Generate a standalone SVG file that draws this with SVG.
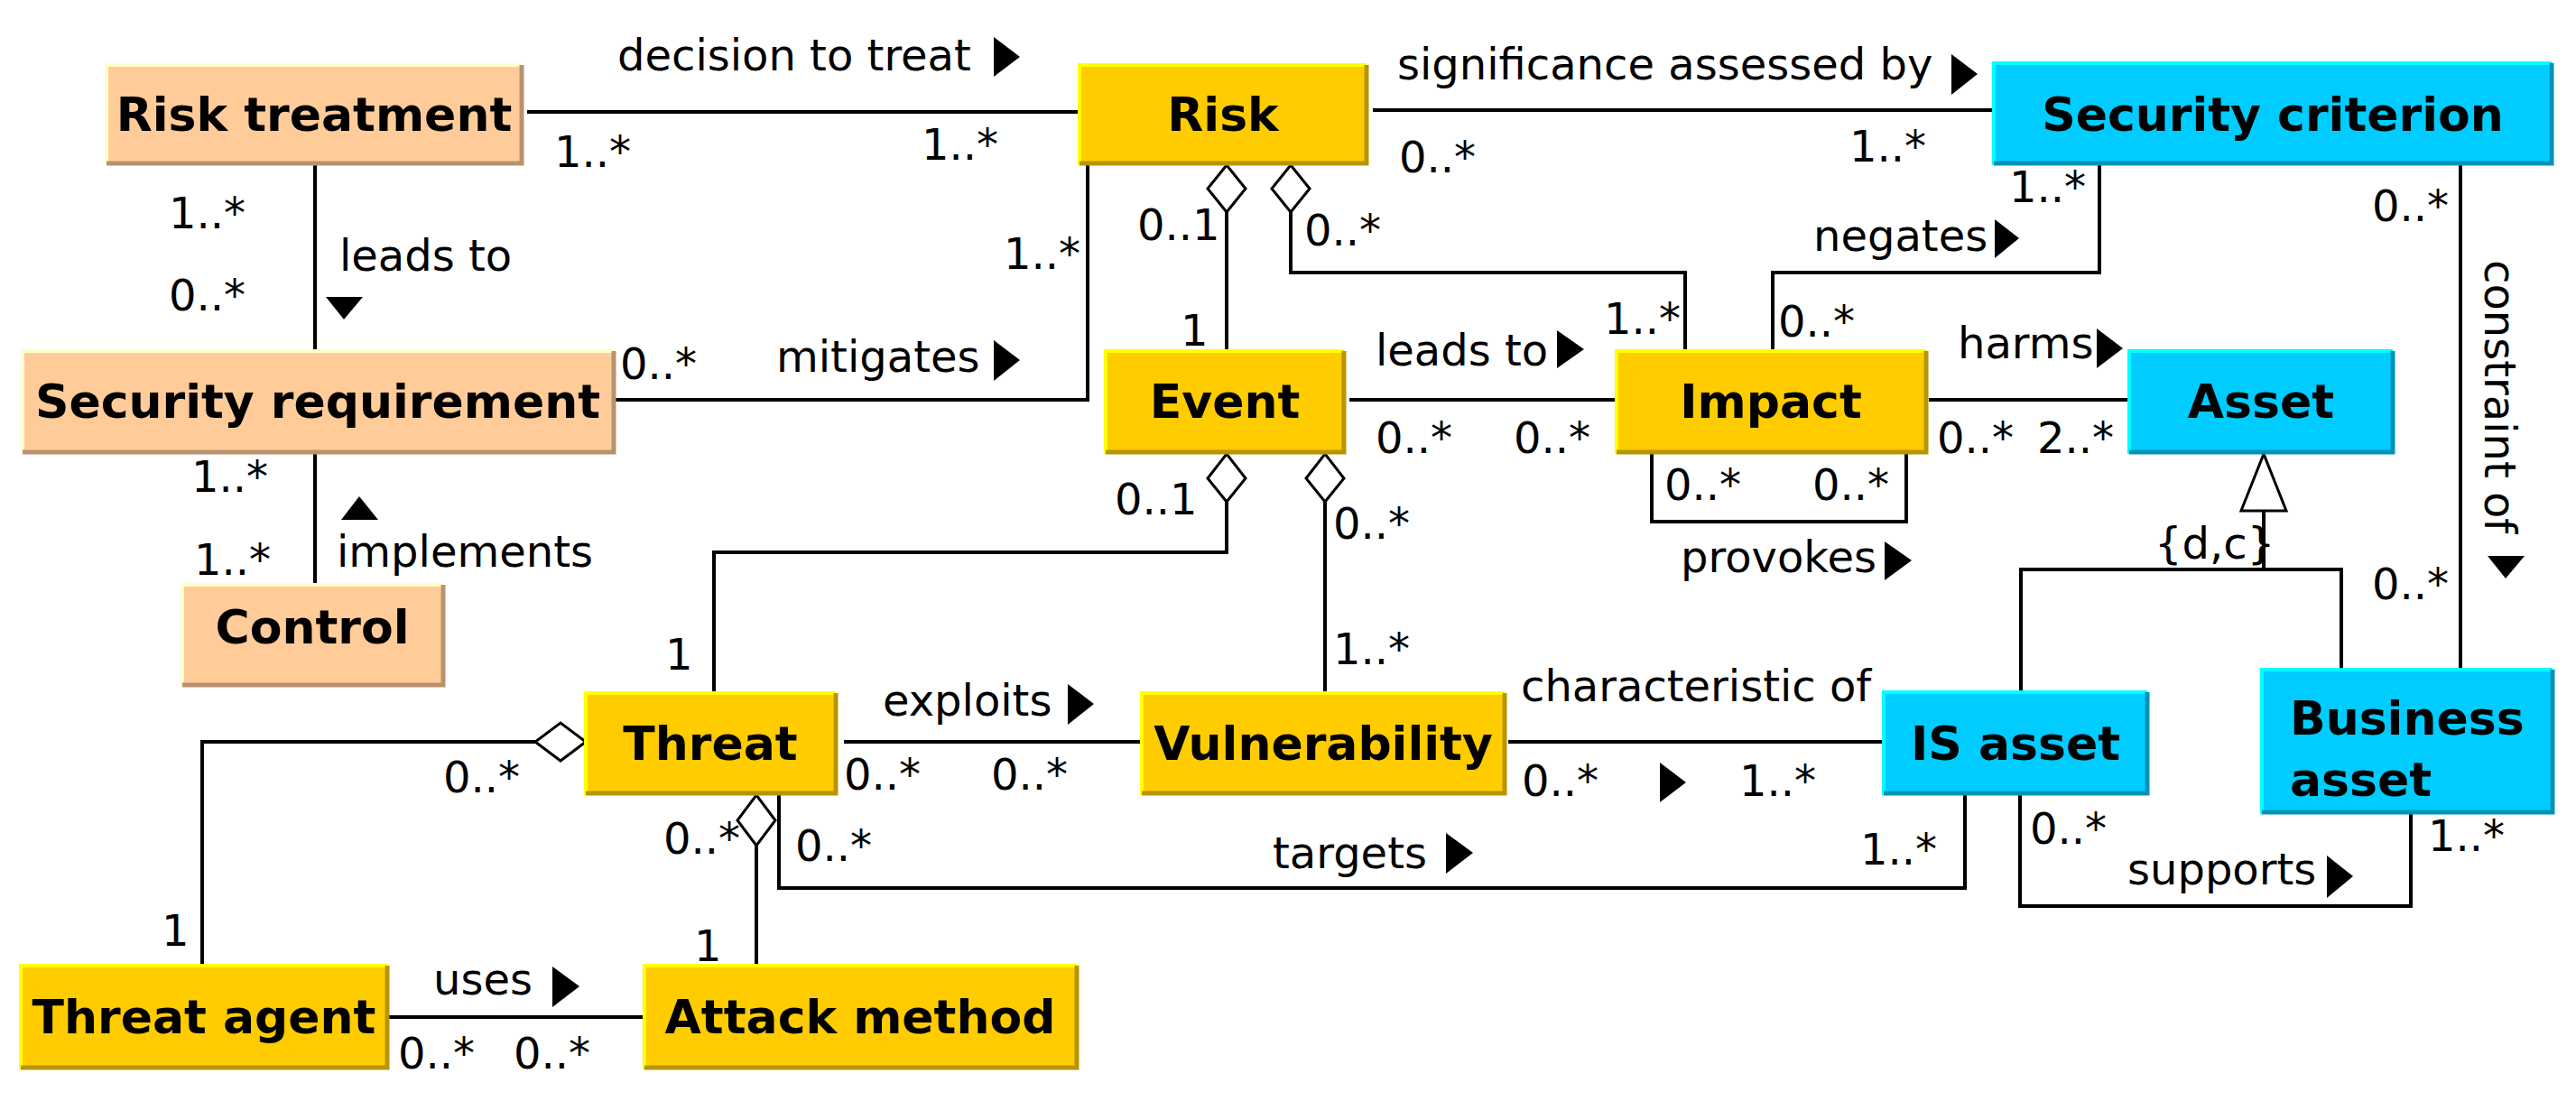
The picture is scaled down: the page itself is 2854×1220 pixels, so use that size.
<svg xmlns="http://www.w3.org/2000/svg" width="2854" height="1220" viewBox="0 0 2854 1220">
<defs>
<style>
text{font-family:"DejaVu Sans","Liberation Sans",sans-serif;fill:#000}
.t{font-size:48px}
.n{font-size:52px;font-weight:bold;text-anchor:middle}
.nl{font-size:52px;font-weight:bold}
.c line,.c polyline,.c path{stroke:#000;stroke-width:4;fill:none}
.c .dia{fill:#fff;stroke-width:3}
.tri{fill:#000;stroke:none}
.peach{fill:#FFCC99}.yel{fill:#FFCC00}.cyan{fill:#00CCFF}
</style>
</defs>
<rect width="2854" height="1220" fill="#fff"/>
<g id="connectors" class="c">
<line x1="584" y1="124" x2="1196" y2="124"/>
<line x1="349" y1="183" x2="349" y2="389"/>
<polyline points="680,443 1205,443 1205,183"/>
<line x1="349" y1="503" x2="349" y2="646"/>
<line x1="1359" y1="235" x2="1359" y2="390"/>
<path class="dia" d="M1359,183 L1380,209 L1359,235 L1338,209 Z"/>
<polyline points="1430,235 1430,302 1867,302 1867,389"/>
<path class="dia" d="M1430,183 L1451,209 L1430,235 L1409,209 Z"/>
<line x1="1521" y1="122" x2="2209" y2="122"/>
<polyline points="2326,183 2326,302 1964,302 1964,389"/>
<line x1="2726" y1="183" x2="2726" y2="742"/>
<line x1="1495" y1="443" x2="1791" y2="443"/>
<line x1="2137" y1="443" x2="2359" y2="443"/>
<polyline points="1830,503 1830,578 2112,578 2112,503"/>
<polyline points="2239,767 2239,631 2594,631 2594,742"/>
<line x1="2508" y1="566" x2="2508" y2="631"/>
<path class="dia" d="M2508,503 L2533,566 L2483,566 Z"/>
<polyline points="1359,556 1359,612 791,612 791,768"/>
<path class="dia" d="M1359,503 L1380,530 L1359,556 L1338,530 Z"/>
<line x1="1468" y1="556" x2="1468" y2="768"/>
<path class="dia" d="M1468,503 L1489,530 L1468,556 L1447,530 Z"/>
<line x1="935" y1="822" x2="1265" y2="822"/>
<line x1="1671" y1="822" x2="2087" y2="822"/>
<polyline points="593,822 224,822 224,1070"/>
<path class="dia" d="M649,822 L621,843 L593,822 L621,801 Z"/>
<line x1="838" y1="937" x2="838" y2="1070"/>
<path class="dia" d="M838,881 L859,909 L838,937 L817,909 Z"/>
<polyline points="863,881 863,984 2177,984 2177,881"/>
<polyline points="2238,881 2238,1004 2671,1004 2671,902"/>
<line x1="429" y1="1127" x2="714" y2="1127"/>
</g>
<g id="arrows">
<path class="tri" d="M1101,41 L1130,63 L1101,85 Z"/>
<path class="tri" d="M361,329 L402,329 L381,354 Z"/>
<path class="tri" d="M1101,377 L1130,399 L1101,422 Z"/>
<path class="tri" d="M378,576 L419,576 L398,550 Z"/>
<path class="tri" d="M2162,60 L2191,82 L2162,105 Z"/>
<path class="tri" d="M2210,243 L2237,264 L2210,286 Z"/>
<path class="tri" d="M2756,616 L2797,616 L2776,641 Z"/>
<path class="tri" d="M1725,366 L1755,387 L1725,408 Z"/>
<path class="tri" d="M2323,364 L2352,386 L2323,408 Z"/>
<path class="tri" d="M2088,600 L2118,621 L2088,643 Z"/>
<path class="tri" d="M1183,758 L1212,780 L1183,803 Z"/>
<path class="tri" d="M1839,845 L1868,867 L1839,889 Z"/>
<path class="tri" d="M1602,923 L1632,945 L1602,968 Z"/>
<path class="tri" d="M2578,948 L2607,971 L2578,995 Z"/>
<path class="tri" d="M612,1071 L642,1093 L612,1116 Z"/>
</g>
<g id="labels" class="t">
<text x="684" y="78">decision to treat</text>
<text x="614" y="185">1..*</text>
<text x="1021" y="177">1..*</text>
<text x="187" y="253">1..*</text>
<text x="376" y="300">leads to</text>
<text x="187" y="344">0..*</text>
<text x="1112" y="298">1..*</text>
<text x="687" y="420">0..*</text>
<text x="860" y="412">mitigates</text>
<text x="212" y="545">1..*</text>
<text x="373" y="628">implements</text>
<text x="215" y="637">1..*</text>
<text x="1260" y="266">0..1</text>
<text x="1308" y="383">1</text>
<text x="1445" y="272">0..*</text>
<text x="1777" y="370">1..*</text>
<text x="1548" y="88">significance assessed by</text>
<text x="1550" y="191">0..*</text>
<text x="2049" y="179">1..*</text>
<text x="2226" y="224">1..*</text>
<text x="2009" y="278">negates</text>
<text x="1970" y="373">0..*</text>
<text x="2628" y="245">0..*</text>
<text transform="translate(2753,288) rotate(90)">constraint of</text>
<text x="2628" y="664">0..*</text>
<text x="1524" y="405">leads to</text>
<text x="1524" y="502">0..*</text>
<text x="1677" y="502">0..*</text>
<text x="2169" y="397">harms</text>
<text x="2146" y="502">0..*</text>
<text x="2257" y="502">2..*</text>
<text x="1844" y="554">0..*</text>
<text x="2008" y="554">0..*</text>
<text x="1862" y="634">provokes</text>
<text x="2387" y="619">{d,c}</text>
<text x="1235" y="570">0..1</text>
<text x="737" y="742">1</text>
<text x="1477" y="597">0..*</text>
<text x="1477" y="736">1..*</text>
<text x="978" y="793">exploits</text>
<text x="935" y="875">0..*</text>
<text x="1098" y="875">0..*</text>
<text x="1685" y="777">characteristic of</text>
<text x="1686" y="882">0..*</text>
<text x="1927" y="882">1..*</text>
<text x="491" y="878">0..*</text>
<text x="179" y="1048">1</text>
<text x="735" y="946">0..*</text>
<text x="769" y="1065">1</text>
<text x="881" y="954">0..*</text>
<text x="1410" y="962">targets</text>
<text x="2061" y="958">1..*</text>
<text x="2249" y="935">0..*</text>
<text x="2357" y="980">supports</text>
<text x="2690" y="943">1..*</text>
<text x="480" y="1102">uses</text>
<text x="441" y="1184">0..*</text>
<text x="569" y="1184">0..*</text>
</g>
<g id="risk-treatment"><rect class="peach" x="118" y="72" width="460" height="111"/><path d="M118,183 V72 H578" stroke="#FFFFCC" stroke-width="4" fill="none"/><path d="M118,181 H578 V72" stroke="#B8926E" stroke-width="5" fill="none"/><text class="n" x="348" y="145">Risk treatment</text></g>
<g id="risk"><rect class="yel" x="1196" y="72" width="318" height="111"/><path d="M1196,183 V72 H1514" stroke="#FFFF00" stroke-width="4" fill="none"/><path d="M1196,181 H1514 V72" stroke="#B89400" stroke-width="5" fill="none"/><text class="n" x="1355" y="145">Risk</text></g>
<g id="security-criterion"><rect class="cyan" x="2209" y="70" width="618" height="113"/><path d="M2209,183 V70 H2827" stroke="#00FFFF" stroke-width="4" fill="none"/><path d="M2209,181 H2827 V70" stroke="#0093B8" stroke-width="5" fill="none"/><text class="n" x="2518" y="145">Security criterion</text></g>
<g id="security-requirement"><rect class="peach" x="25" y="389" width="655" height="114"/><path d="M25,503 V389 H680" stroke="#FFFFCC" stroke-width="4" fill="none"/><path d="M25,501 H680 V389" stroke="#B8926E" stroke-width="5" fill="none"/><text class="n" x="352" y="463">Security requirement</text></g>
<g id="event"><rect class="yel" x="1225" y="389" width="264" height="114"/><path d="M1225,503 V389 H1489" stroke="#FFFF00" stroke-width="4" fill="none"/><path d="M1225,501 H1489 V389" stroke="#B89400" stroke-width="5" fill="none"/><text class="n" x="1357" y="463">Event</text></g>
<g id="impact"><rect class="yel" x="1791" y="389" width="343" height="114"/><path d="M1791,503 V389 H2134" stroke="#FFFF00" stroke-width="4" fill="none"/><path d="M1791,501 H2134 V389" stroke="#B89400" stroke-width="5" fill="none"/><text class="n" x="1962" y="463">Impact</text></g>
<g id="asset"><rect class="cyan" x="2359" y="389" width="292" height="114"/><path d="M2359,503 V389 H2651" stroke="#00FFFF" stroke-width="4" fill="none"/><path d="M2359,501 H2651 V389" stroke="#0093B8" stroke-width="5" fill="none"/><text class="n" x="2505" y="463">Asset</text></g>
<g id="control"><rect class="peach" x="202" y="648" width="289" height="113"/><path d="M202,761 V648 H491" stroke="#FFFFCC" stroke-width="4" fill="none"/><path d="M202,759 H491 V648" stroke="#B8926E" stroke-width="5" fill="none"/><text class="n" x="346" y="713">Control</text></g>
<g id="threat"><rect class="yel" x="649" y="768" width="277" height="113"/><path d="M649,881 V768 H926" stroke="#FFFF00" stroke-width="4" fill="none"/><path d="M649,879 H926 V768" stroke="#B89400" stroke-width="5" fill="none"/><text class="n" x="787" y="842">Threat</text></g>
<g id="vulnerability"><rect class="yel" x="1265" y="768" width="402" height="113"/><path d="M1265,881 V768 H1667" stroke="#FFFF00" stroke-width="4" fill="none"/><path d="M1265,879 H1667 V768" stroke="#B89400" stroke-width="5" fill="none"/><text class="n" x="1466" y="842">Vulnerability</text></g>
<g id="is-asset"><rect class="cyan" x="2087" y="767" width="292" height="114"/><path d="M2087,881 V767 H2379" stroke="#00FFFF" stroke-width="4" fill="none"/><path d="M2087,879 H2379 V767" stroke="#0093B8" stroke-width="5" fill="none"/><text class="n" x="2233" y="842">IS asset</text></g>
<g id="business-asset"><rect class="cyan" x="2506" y="742" width="322" height="160"/><path d="M2506,902 V742 H2828" stroke="#00FFFF" stroke-width="4" fill="none"/><path d="M2506,900 H2828 V742" stroke="#0093B8" stroke-width="5" fill="none"/><text class="nl" x="2537" y="814">Business</text><text class="nl" x="2537" y="882">asset</text></g>
<g id="threat-agent"><rect class="yel" x="23" y="1070" width="406" height="115"/><path d="M23,1185 V1070 H429" stroke="#FFFF00" stroke-width="4" fill="none"/><path d="M23,1183 H429 V1070" stroke="#B89400" stroke-width="5" fill="none"/><text class="n" x="226" y="1145">Threat agent</text></g>
<g id="attack-method"><rect class="yel" x="714" y="1070" width="479" height="115"/><path d="M714,1185 V1070 H1193" stroke="#FFFF00" stroke-width="4" fill="none"/><path d="M714,1183 H1193 V1070" stroke="#B89400" stroke-width="5" fill="none"/><text class="n" x="953" y="1145">Attack method</text></g>
</svg>
